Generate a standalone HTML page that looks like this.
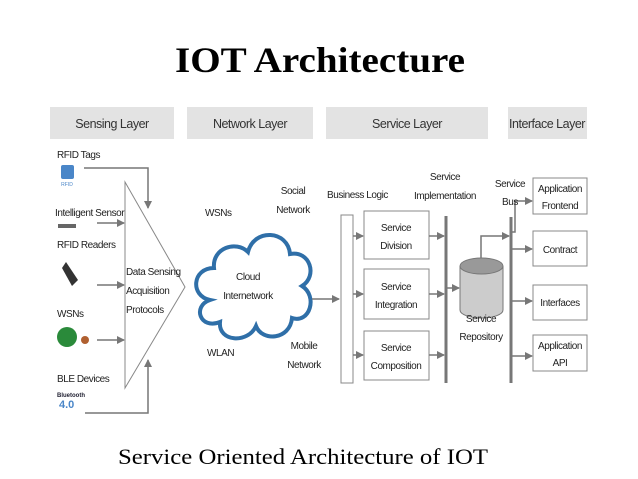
<!DOCTYPE html>
<html><head><meta charset="utf-8"><style>
html,body{margin:0;padding:0;background:#fff;}
svg{display:block;}
.t{font-family:"Liberation Sans Narrow","Liberation Sans",sans-serif;font-size:10px;letter-spacing:-0.45px;fill:#222;}
.h{font-family:"Liberation Sans Narrow","Liberation Sans",sans-serif;font-size:12.5px;letter-spacing:-0.5px;fill:#333;}
</style></head><body>
<svg width="638" height="479" viewBox="0 0 638 479" xmlns="http://www.w3.org/2000/svg">
<defs>
<marker id="a" markerWidth="8" markerHeight="8" refX="7" refY="4" orient="auto" markerUnits="userSpaceOnUse">
<path d="M0,0 L8,4 L0,8 z" fill="#777"/></marker>
</defs>
<text x="320" y="72" text-anchor="middle" font-family="Liberation Serif,serif" font-weight="bold" font-size="36" textLength="290" lengthAdjust="spacingAndGlyphs" fill="#000">IOT Architecture</text>
<rect x="50" y="107" width="124" height="32" fill="#e3e3e3"/>
<rect x="187" y="107" width="126" height="32" fill="#e3e3e3"/>
<rect x="326" y="107" width="162" height="32" fill="#e3e3e3"/>
<rect x="508" y="107" width="79" height="32" fill="#e3e3e3"/>
<text class="h" x="112" y="128" text-anchor="middle">Sensing Layer</text>
<text class="h" x="250" y="128" text-anchor="middle">Network Layer</text>
<text class="h" x="407" y="128" text-anchor="middle">Service Layer</text>
<text class="h" x="547" y="128" text-anchor="middle">Interface Layer</text>
<text class="t" x="57" y="158">RFID Tags</text>
<rect x="61" y="165" width="13" height="14" rx="2" fill="#4a86c8"/>
<text x="67" y="186" font-size="5" fill="#4a86c8" text-anchor="middle" font-family="Liberation Sans">RFID</text>
<text class="t" x="55" y="216">Intelligent Sensors</text>
<rect x="58" y="224" width="18" height="4" fill="#666"/>
<text class="t" x="57" y="248">RFID Readers</text>
<path d="M66,262 L78,280 L72,286 L62,268 z" fill="#333"/>
<text class="t" x="57" y="317">WSNs</text>
<circle cx="67" cy="337" r="10" fill="#2a8a3a"/>
<circle cx="85" cy="340" r="4" fill="#b06030"/>
<text class="t" x="57" y="382">BLE Devices</text>
<text x="57" y="397" font-size="6" font-weight="bold" fill="#223" font-family="Liberation Sans">Bluetooth</text>
<text x="59" y="408" font-size="11" font-weight="bold" fill="#4a86c8" font-family="Liberation Sans">4.0</text>
<g stroke="#777" stroke-width="1.5" fill="none">
<polyline points="84,168 148,168 148,208" marker-end="url(#a)"/>
<line x1="97" y1="223" x2="124" y2="223" marker-end="url(#a)"/>
<line x1="97" y1="285" x2="124" y2="285" marker-end="url(#a)"/>
<line x1="97" y1="340" x2="124" y2="340" marker-end="url(#a)"/>
<polyline points="85,413 148,413 148,360" marker-end="url(#a)"/>
</g>
<polygon points="125,182 185,287 125,388" fill="#fff" stroke="#888" stroke-width="1"/>
<text class="t" x="126" y="275">Data Sensing</text>
<text class="t" x="126" y="294">Acquisition</text>
<text class="t" x="126" y="313">Protocols</text>
<path d="M210,300 C190,296 192,268 214,268 C212,248 236,240 248,252 C254,228 288,230 290,254 C310,250 318,276 302,286 C318,296 310,324 292,318 C290,340 262,342 256,326 C248,344 218,342 220,322 C200,330 192,306 210,300 z" fill="#fff" stroke="#2f6fa8" stroke-width="4"/>
<text class="t" x="248" y="280" text-anchor="middle">Cloud</text>
<text class="t" x="248" y="299" text-anchor="middle">Internetwork</text>
<text class="t" x="205" y="216">WSNs</text>
<text class="t" x="293" y="194" text-anchor="middle">Social</text>
<text class="t" x="293" y="213" text-anchor="middle">Network</text>
<text class="t" x="207" y="356">WLAN</text>
<text class="t" x="304" y="349" text-anchor="middle">Mobile</text>
<text class="t" x="304" y="368" text-anchor="middle">Network</text>
<line x1="312" y1="299" x2="339" y2="299" stroke="#777" stroke-width="1.5" marker-end="url(#a)"/>
<text class="t" x="327" y="198">Business Logic</text>
<rect x="341" y="215" width="12" height="168" fill="#fff" stroke="#888"/>
<rect x="364" y="211" width="65" height="48" fill="#fff" stroke="#888"/>
<rect x="364" y="269" width="65" height="50" fill="#fff" stroke="#888"/>
<rect x="364" y="331" width="65" height="49" fill="#fff" stroke="#888"/>
<text class="t" x="396" y="231" text-anchor="middle">Service</text>
<text class="t" x="396" y="249" text-anchor="middle">Division</text>
<text class="t" x="396" y="290" text-anchor="middle">Service</text>
<text class="t" x="396" y="308" text-anchor="middle">Integration</text>
<text class="t" x="396" y="351" text-anchor="middle">Service</text>
<text class="t" x="396" y="369" text-anchor="middle">Composition</text>
<text class="t" x="445" y="180" text-anchor="middle">Service</text>
<text class="t" x="445" y="199" text-anchor="middle">Implementation</text>
<line x1="446" y1="216" x2="446" y2="383" stroke="#777" stroke-width="3"/>
<g stroke="#777" stroke-width="1.5" fill="none">
<line x1="353" y1="236" x2="363" y2="236" marker-end="url(#a)"/>
<line x1="353" y1="294" x2="363" y2="294" marker-end="url(#a)"/>
<line x1="353" y1="355" x2="363" y2="355" marker-end="url(#a)"/>
<line x1="429" y1="236" x2="444" y2="236" marker-end="url(#a)"/>
<line x1="429" y1="294" x2="444" y2="294" marker-end="url(#a)"/>
<line x1="429" y1="355" x2="444" y2="355" marker-end="url(#a)"/>
<line x1="447" y1="288" x2="459" y2="288" marker-end="url(#a)"/>
<polyline points="481,258 481,236 509,236" marker-end="url(#a)"/>
<polyline points="511,232 515,232 515,201 532,201" marker-end="url(#a)"/>
<line x1="511" y1="249" x2="532" y2="249" marker-end="url(#a)"/>
<line x1="511" y1="301" x2="532" y2="301" marker-end="url(#a)"/>
<line x1="511" y1="356" x2="532" y2="356" marker-end="url(#a)"/>
</g>
<path d="M460,266 L460,310 A21.5,8 0 0 0 503,310 L503,266" fill="#ccc" stroke="#777"/>
<ellipse cx="481.5" cy="266" rx="21.5" ry="8" fill="#999" stroke="#777"/>
<text class="t" x="481" y="322" text-anchor="middle" font-size="12" fill="#555">Service</text>
<text class="t" x="481" y="340" text-anchor="middle" font-size="12">Repository</text>
<text class="t" x="510" y="187" text-anchor="middle">Service</text>
<text class="t" x="510" y="205" text-anchor="middle">Bus</text>
<line x1="511" y1="217" x2="511" y2="383" stroke="#777" stroke-width="3"/>
<rect x="533" y="178" width="54" height="36" fill="#fff" stroke="#888"/>
<rect x="533" y="231" width="54" height="35" fill="#fff" stroke="#888"/>
<rect x="533" y="285" width="54" height="35" fill="#fff" stroke="#888"/>
<rect x="533" y="335" width="54" height="36" fill="#fff" stroke="#888"/>
<text class="t" x="560" y="192" text-anchor="middle">Application</text>
<text class="t" x="560" y="209" text-anchor="middle">Frontend</text>
<text class="t" x="560" y="253" text-anchor="middle">Contract</text>
<text class="t" x="560" y="306" text-anchor="middle">Interfaces</text>
<text class="t" x="560" y="349" text-anchor="middle">Application</text>
<text class="t" x="560" y="366" text-anchor="middle">API</text>
<text x="303" y="464" text-anchor="middle" font-family="Liberation Serif,serif" font-size="22" textLength="370" lengthAdjust="spacingAndGlyphs" fill="#000">Service Oriented Architecture of IOT</text>
</svg>
</body></html>
